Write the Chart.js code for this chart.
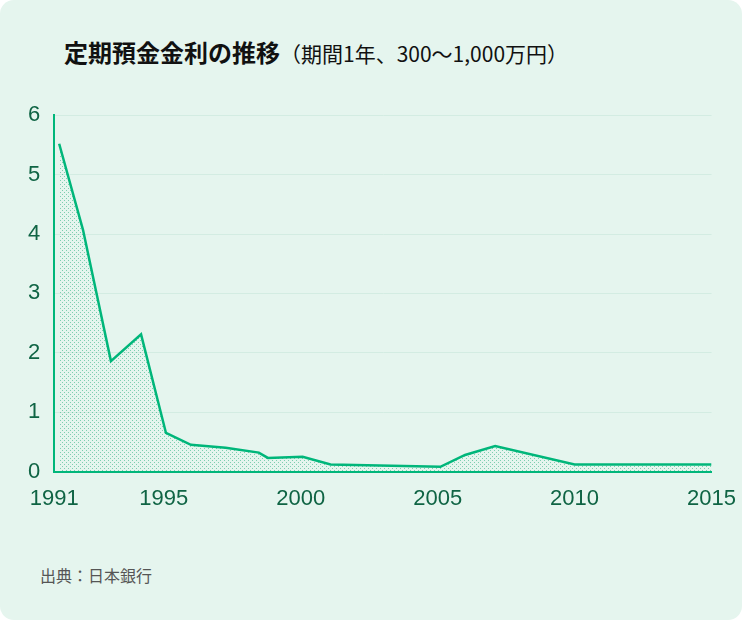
<!DOCTYPE html>
<html><head><meta charset="utf-8">
<script src="https://cdn.jsdelivr.net/npm/chart.js@4"></script>
<style>
body{margin:0;background:#fff;font-family:"Noto Sans CJK JP",sans-serif;}
#card{position:absolute;left:0;top:0;width:742px;height:620px;background:#e5f5ee;border-radius:14px;}
#title{position:absolute;left:64px;top:34px;font-size:24px;color:#111;white-space:nowrap}
#title b{font-weight:700}
#title span{font-size:21px;font-weight:400}
#src{position:absolute;left:40px;top:563px;font-size:16px;color:#555}
#wrap{position:absolute;left:0;top:88px;width:742px;height:430px}
</style></head><body>
<div id="card">
<div id="title"><b>定期預金金利の推移</b><span>（期間1年、300〜1,000万円）</span></div>
<div id="wrap"><canvas id="c"></canvas></div>
<div id="src">出典：日本銀行</div>
</div>
<script>
const years=[1991.18,1992.05,1993.07,1994.17,1995.08,1995.99,1997.26,1998.47,1998.8,2000.07,2001.09,2005.1,2006.0,2007.1,2010.0,2015.0];
const rates=[5.52,4.07,1.86,2.31,0.65,0.45,0.40,0.32,0.23,0.25,0.12,0.08,0.28,0.43,0.12,0.12];
const xTicks=[1991,1995,2000,2005,2010,2015];
const yTicks=[0,1,2,3,4,5,6];

const pc=document.createElement('canvas');pc.width=4;pc.height=4;
const px=pc.getContext('2d');px.fillStyle='rgba(0,160,100,0.45)';px.fillRect(0,0,1,1);px.fillRect(2,2,1,1);
const pattern=px.createPattern(pc,'repeat');
new Chart(document.getElementById('c'),{
 type:'line',
 data:{datasets:[{data:years.map((y,i)=>({x:y,y:rates[i]})),borderColor:'#00b67a',borderWidth:2.5,pointRadius:0,tension:0,fill:'origin',backgroundColor:pattern}]},
 options:{responsive:true,maintainAspectRatio:false,animation:false,
  layout:{padding:{left:14,right:28,top:12,bottom:0}},
  plugins:{legend:{display:false},tooltip:{enabled:false}},
  scales:{
   x:{type:'linear',min:1991,max:2015,afterBuildTicks:a=>{a.ticks=xTicks.map(v=>({value:v}))},
      grid:{display:false},border:{color:'#00b67a',width:2},
      ticks:{color:'#0f6444',font:{size:22,family:'Liberation Sans'},callback:v=>String(v),maxRotation:0,padding:6}},
   y:{min:0,max:6,afterBuildTicks:a=>{a.ticks=yTicks.map(v=>({value:v}))},
      grid:{color:'#d3ece2',drawTicks:false},border:{color:'#00b67a',width:2},
      ticks:{color:'#0f6444',font:{size:22,family:'Liberation Sans'},padding:14}}
  }}
});
</script></body></html>
